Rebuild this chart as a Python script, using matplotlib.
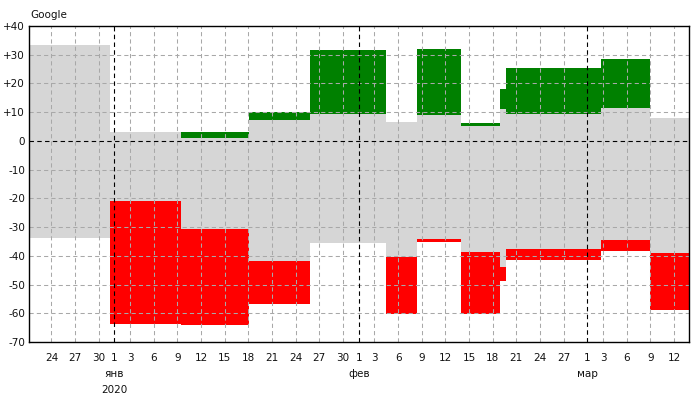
import datetime as dt

import matplotlib

matplotlib.use("Agg")
import matplotlib.dates as mdates
import matplotlib.pyplot as plt
import numpy as np
from matplotlib.ticker import FixedLocator, FuncFormatter
from matplotlib.transforms import blended_transform_factory

# segment edges in days counted from 1 Jan 2020
EDGES = [-12.0, -0.55, 8.45, 17.1, 24.8, 34.5, 38.4, 44.0, 48.9, 49.7, 61.8, 67.9, 74.0]
# grey band (range) per segment
GREY_HI = [33.4, 3.1, 1.0, 7.3, 9.5, 6.6, 9.05, 5.2, 11.1, 9.5, 11.6, 8.0]
GREY_LO = [-33.6, -20.9, -30.7, -41.7, -35.4, -40.3, -34.1, -38.6, -43.7, -37.6, -34.5, -38.9]
# green goes from GREY_HI up to GREEN_TOP, red from RED_BOTTOM up to GREY_LO
GREEN_TOP = [np.nan, np.nan, 3.1, 10.1, 31.7, np.nan, 32.0, 6.3, 18.1, 25.4, 28.5, np.nan]
RED_BOTTOM = [np.nan, -63.7, -64.0, -56.7, np.nan, -60.3, -35.2, -60.3, -48.6, -41.4, -38.3, -58.8]

TICK_DATES = [
    "2019-12-24", "2019-12-27", "2019-12-30",
    "2020-01-01", "2020-01-03", "2020-01-06", "2020-01-09", "2020-01-12", "2020-01-15",
    "2020-01-18", "2020-01-21", "2020-01-24", "2020-01-27", "2020-01-30",
    "2020-02-01", "2020-02-03", "2020-02-06", "2020-02-09", "2020-02-12", "2020-02-15",
    "2020-02-18", "2020-02-21", "2020-02-24", "2020-02-27",
    "2020-03-01", "2020-03-03", "2020-03-06", "2020-03-09", "2020-03-12",
]
MONTH_STARTS = ["2020-01-01", "2020-02-01", "2020-03-01"]
MONTH_LABELS = ["янв", "фев", "мар"]
YEAR_LABEL = "2020"
Y_TICKS = list(range(-70, 41, 10))
XLIM = ("2019-12-21 04:48", "2020-03-13 21:00")
TITLE = "Google"

GREY = "#d6d6d6"
GREEN = "#008000"
RED = "#ff0000"
GRID = "#a8a8a8"


def _num(s: str) -> float:
    return mdates.date2num(dt.datetime.fromisoformat(s))


def main() -> None:
    plt.rcParams["font.family"] = ["DejaVu Sans"]
    fig = plt.figure(figsize=(7, 4), dpi=100)
    ax = fig.add_axes([0.0419, 0.1445, 0.9420, 0.7905])

    base = _num("2020-01-01")
    edges = base + np.array(EDGES)
    left = edges[:-1]
    width = np.diff(edges)
    hi = np.array(GREY_HI)
    lo = np.array(GREY_LO)
    gtop = np.array(GREEN_TOP)
    rbot = np.array(RED_BOTTOM)

    ax.bar(left, hi - lo, width=width, bottom=lo, align="edge", color=GREY, linewidth=0, zorder=1)
    ax.bar(left, gtop - hi, width=width, bottom=hi, align="edge", color=GREEN, linewidth=0, zorder=2)
    ax.bar(left, lo - rbot, width=width, bottom=rbot, align="edge", color=RED, linewidth=0, zorder=2)

    ticks = [_num(d) for d in TICK_DATES]
    months = [_num(d) for d in MONTH_STARTS]
    for t in ticks:
        if t in months:
            ax.axvline(t, color="black", linewidth=0.8, dashes=(4, 3), zorder=4)
        else:
            ax.axvline(t, color=GRID, linewidth=0.75, dashes=(4, 3), zorder=3)
    for y in Y_TICKS:
        if y == 0:
            ax.axhline(y, color="black", linewidth=0.8, dashes=(4, 3), zorder=4)
        else:
            ax.axhline(y, color=GRID, linewidth=0.75, dashes=(4, 3), zorder=3)

    ax.set_xlim(_num(XLIM[0]), _num(XLIM[1]))
    ax.set_ylim(-70, 40)
    ax.xaxis.set_major_locator(FixedLocator(ticks))
    ax.xaxis.set_major_formatter(FuncFormatter(lambda v, p: str(mdates.num2date(v).day)))
    ax.yaxis.set_major_locator(FixedLocator(Y_TICKS))
    ax.yaxis.set_major_formatter(FuncFormatter(lambda v, p: f"{v:+.0f}" if v != 0 else "0"))
    ax.tick_params(axis="both", length=0, labelsize=7.5, colors="#111111")
    ax.tick_params(axis="x", pad=8)
    ax.tick_params(axis="y", pad=3)

    for side in ["left", "right", "top", "bottom"]:
        ax.spines[side].set_linewidth(1.0)
        ax.spines[side].set_color("black")
        ax.spines[side].set_zorder(5)

    trans = blended_transform_factory(ax.transData, ax.transAxes)
    for m, label in zip(months, MONTH_LABELS):
        ax.text(m, -0.100, label, transform=trans, ha="center", va="center", fontsize=7.5, color="#111111")
    ax.text(months[0], -0.151, YEAR_LABEL, transform=trans, ha="center", va="center", fontsize=7.5, color="#111111")

    fig.text(30 / 700, 1 - 15 / 400, TITLE, ha="left", va="center", fontsize=7.5, color="#111111")

    fig.savefig("out.png", dpi=100)
    plt.close(fig)


if __name__ == "__main__":
    main()
